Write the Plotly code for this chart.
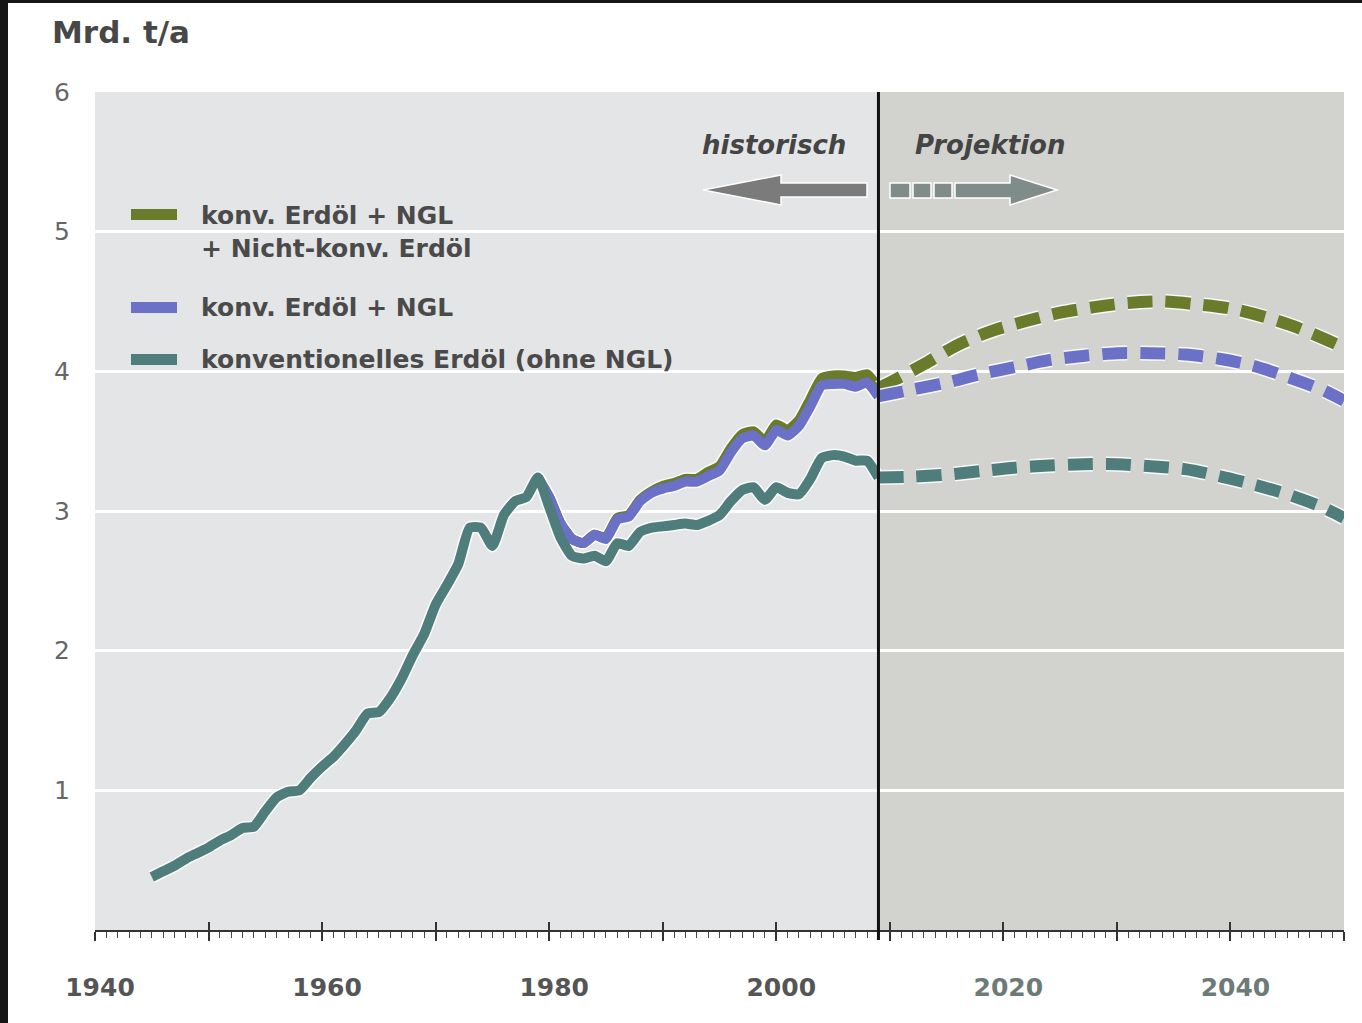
import plotly.graph_objects as go

# ---------------------------------------------------------------- data
hist_years = list(range(1945, 2010))
conv_oil_hist = [
    0.38, 0.42, 0.46, 0.51, 0.55, 0.59, 0.64, 0.68, 0.73, 0.74,
    0.85, 0.95, 0.99, 1.00, 1.09, 1.17, 1.24, 1.33, 1.43, 1.55,
    1.56, 1.66, 1.80, 1.97, 2.12, 2.33, 2.47, 2.62, 2.88, 2.88,
    2.75, 2.97, 3.07, 3.10, 3.24, 3.03, 2.81, 2.68, 2.66, 2.68,
    2.64, 2.77, 2.75, 2.85, 2.88, 2.89, 2.90, 2.91, 2.90, 2.93,
    2.97, 3.07, 3.15, 3.17, 3.08, 3.17, 3.13, 3.12, 3.23, 3.38,
    3.40, 3.39, 3.36, 3.36, 3.24,
]

ngl_years = list(range(1979, 2010))
conv_ngl_hist = [
    3.24, 3.10, 2.91, 2.80, 2.77, 2.83, 2.80, 2.94, 2.96, 3.07,
    3.13, 3.16, 3.18, 3.21, 3.21, 3.25, 3.29, 3.42, 3.52, 3.54,
    3.47, 3.58, 3.54, 3.61, 3.75, 3.90, 3.91, 3.91, 3.89, 3.92,
    3.82,
]
total_hist = [
    3.24, 3.10, 2.91, 2.80, 2.77, 2.83, 2.81, 2.95, 2.97, 3.08,
    3.14, 3.18, 3.20, 3.23, 3.23, 3.28, 3.32, 3.45, 3.55, 3.57,
    3.50, 3.62, 3.58, 3.65, 3.80, 3.95, 3.97, 3.97, 3.96, 3.98,
    3.88,
]

total_proj_years = [2009, 2010, 2013, 2016, 2019, 2022, 2025, 2028, 2031,
                    2034, 2037, 2040, 2043, 2046, 2050]
total_proj = [3.88, 3.92, 4.05, 4.19, 4.29, 4.36, 4.42, 4.46, 4.49,
              4.50, 4.48, 4.45, 4.39, 4.31, 4.17]

proj_years = [2009, 2012, 2015, 2018, 2021, 2024, 2027, 2030, 2033,
              2036, 2039, 2042, 2045, 2048, 2050]
conv_ngl_proj = [3.82, 3.87, 3.92, 3.98, 4.03, 4.08, 4.11, 4.13, 4.13,
                 4.12, 4.09, 4.04, 3.96, 3.87, 3.79]
conv_oil_proj = [3.24, 3.245, 3.26, 3.285, 3.31, 3.325, 3.335, 3.335, 3.32,
                 3.30, 3.25, 3.19, 3.12, 3.03, 2.95]

decades = list(range(1940, 2051, 10))
year_labels = {1940: "1940", 1960: "1960", 1980: "1980", 2000: "2000",
               2020: "2020", 2040: "2040"}
y_ticks = [1, 2, 3, 4, 5, 6]

legend_labels = [
    "konv. Erdöl + NGL<br>+ Nicht-konv. Erdöl",
    "konv. Erdöl + NGL",
    "konventionelles Erdöl (ohne NGL)",
]

# ---------------------------------------------------------------- styling
GREEN = "#6a7b2b"
BLUE = "#6a71c7"
TEAL = "#4f7d7b"
HALO = "rgba(255,255,255,0.85)"
BG_HIST = "#e4e5e6"
BG_PROJ = "#d2d3cf"
TEXT = "#4a4a4a"
SPLIT_YEAR = 2009

W_FIG, H_FIG = 1362, 1023
PL, PR, PT, PB = 95, 1344, 92, 930


def px(x):
    return (x - PL) / (PR - PL)


def py(y):
    return (PB - y) / (PB - PT)


def poly(points):
    return "M " + " L ".join(f"{px(a):.5f},{py(b):.5f}" for a, b in points) + " Z"


fig = go.Figure()

hist_w, proj_w = 10, 12
dash = "25px,13px"

# halos under the historical lines
for xs, ys in [(ngl_years, total_hist), (ngl_years, conv_ngl_hist),
               (hist_years, conv_oil_hist)]:
    fig.add_trace(go.Scatter(x=xs, y=ys, mode="lines", hoverinfo="skip",
                             line=dict(color=HALO, width=hist_w + 3,
                                       shape="spline", smoothing=0.5),
                             showlegend=False))

for xs, ys, c in [(ngl_years, total_hist, GREEN),
                  (ngl_years, conv_ngl_hist, BLUE),
                  (hist_years, conv_oil_hist, TEAL)]:
    fig.add_trace(go.Scatter(x=xs, y=ys, mode="lines",
                             line=dict(color=c, width=hist_w,
                                       shape="spline", smoothing=0.5),
                             showlegend=False))

# projections (dashed)
for xs, ys, c in [(total_proj_years, total_proj, GREEN),
                  (proj_years, conv_ngl_proj, BLUE),
                  (proj_years, conv_oil_proj, TEAL)]:
    fig.add_trace(go.Scatter(x=xs, y=ys, mode="lines", hoverinfo="skip",
                             line=dict(color=HALO, width=proj_w + 3, dash=dash,
                                       shape="spline", smoothing=0.8),
                             showlegend=False))
    fig.add_trace(go.Scatter(x=xs, y=ys, mode="lines",
                             line=dict(color=c, width=proj_w, dash=dash,
                                       shape="spline", smoothing=0.8),
                             showlegend=False))

# carrier trace for the overlaid axes
fig.add_trace(go.Scatter(x=[None], y=[None], xaxis="x2", yaxis="y2",
                         showlegend=False, hoverinfo="skip"))

shapes = []
# projection background
shapes.append(dict(type="rect", xref="x", yref="paper", x0=SPLIT_YEAR, x1=2050,
                   y0=0, y1=1, fillcolor=BG_PROJ, line_width=0, layer="below"))
# legend area background (hides the grid behind the legend)
shapes.append(dict(type="rect", xref="paper", yref="paper",
                   x0=px(115), x1=px(772), y0=py(385), y1=py(196),
                   fillcolor=BG_HIST, line_width=0, layer="between"))
# split line
shapes.append(dict(type="line", xref="x", yref="paper", x0=SPLIT_YEAR, x1=SPLIT_YEAR,
                   y0=py(940), y1=1, line=dict(color="#111111", width=3),
                   layer="above"))

# legend swatches
for (y0, y1), c in zip([(209, 220), (302, 313), (354, 365)], [GREEN, BLUE, TEAL]):
    shapes.append(dict(type="rect", xref="paper", yref="paper",
                       x0=px(131), x1=px(177), y0=py(y1), y1=py(y0),
                       fillcolor=c, line_width=0, layer="above"))

# direction arrows
shapes.append(dict(type="path", xref="paper", yref="paper",
                   path=poly([(703, 190), (781, 175), (781, 183), (867, 183),
                              (867, 197), (781, 197), (781, 205)]),
                   fillcolor="#7b7b7b", line=dict(color="white", width=1.5),
                   layer="above"))
for a, b in [(890, 910), (913, 931), (934, 952)]:
    shapes.append(dict(type="rect", xref="paper", yref="paper",
                       x0=px(a), x1=px(b), y0=py(198), y1=py(183),
                       fillcolor="#808c8a", line=dict(color="white", width=1.5),
                       layer="above"))
shapes.append(dict(type="path", xref="paper", yref="paper",
                   path=poly([(955, 183), (1010, 183), (1010, 175), (1057, 190),
                              (1010, 205), (1010, 198), (955, 198)]),
                   fillcolor="#808c8a", line=dict(color="white", width=1.5),
                   layer="above"))

# dark frame on the left and top edge
shapes.append(dict(type="rect", xref="paper", yref="paper",
                   x0=px(0), x1=px(8), y0=py(W_FIG), y1=py(0),
                   fillcolor="#161616", line_width=0, layer="above"))
shapes.append(dict(type="rect", xref="paper", yref="paper",
                   x0=px(0), x1=px(W_FIG), y0=py(3), y1=py(0),
                   fillcolor="#161616", line_width=0, layer="above"))

annotations = []
bold = dict(family="DejaVu Sans", size=25, color=TEXT, weight="bold")
annotations.append(dict(text="Mrd. t/a", xref="paper", yref="paper",
                        x=px(50), y=py(32), xanchor="left", yanchor="middle",
                        showarrow=False,
                        font=dict(family="DejaVu Sans", size=31, color="#474747",
                                  weight="bold")))
annotations.append(dict(text="historisch", xref="paper", yref="paper",
                        x=px(774), y=py(145), xanchor="center", yanchor="middle",
                        showarrow=False,
                        font=dict(family="DejaVu Sans", size=26, color="#444444",
                                  weight="bold", style="italic")))
annotations.append(dict(text="Projektion", xref="paper", yref="paper",
                        x=px(990), y=py(145), xanchor="center", yanchor="middle",
                        showarrow=False,
                        font=dict(family="DejaVu Sans", size=26, color="#444444",
                                  weight="bold", style="italic")))
for label, yc in zip(legend_labels, [232, 307, 359]):
    annotations.append(dict(text=label, xref="paper", yref="paper",
                            x=px(199), y=py(yc), xanchor="left", yanchor="middle",
                            align="left", showarrow=False, font=bold))

tick_text = []
for d in decades:
    if d in year_labels:
        col = "#6d7b78" if d > SPLIT_YEAR else "#555555"
        tick_text.append(f'<span style="color:{col}">{year_labels[d]}</span>')
    else:
        tick_text.append("")

fig.update_layout(
    width=W_FIG, height=H_FIG,
    margin=dict(l=PL, r=W_FIG - PR, t=PT, b=H_FIG - PB),
    paper_bgcolor="white", plot_bgcolor=BG_HIST,
    shapes=shapes, annotations=annotations, showlegend=False,
    xaxis=dict(range=[1940, 2050], tickmode="array", tickvals=decades,
               ticktext=tick_text, ticks="outside", ticklen=9, tickwidth=1.5,
               tickcolor="#333333", showgrid=False, zeroline=False,
               showline=True, linecolor="#333333", linewidth=2,
               tickfont=dict(family="DejaVu Sans", size=25, color="#555555",
                             weight="bold"),
               ticklabelstandoff=25, ticklabelshift=5,
               minor=dict(dtick=1, tick0=1940, ticks="outside", ticklen=6,
                          tickwidth=1, tickcolor="#444444", showgrid=False)),
    xaxis2=dict(range=[1940, 2050], overlaying="x", anchor="y", side="bottom",
                tickmode="array", tickvals=decades, ticks="inside", ticklen=8,
                tickwidth=1.5, tickcolor="#333333", showticklabels=False,
                showgrid=False, zeroline=False, showline=False),
    yaxis=dict(range=[0, 6], tickmode="array", tickvals=[1, 2, 3, 4, 5],
               showticklabels=False, ticks="", showgrid=True, gridcolor="white",
               gridwidth=3, zeroline=False, showline=False),
    yaxis2=dict(range=[0, 6], overlaying="y", anchor="x", side="left",
                tickmode="array", tickvals=y_ticks, ticks="", showgrid=False,
                zeroline=False, showline=False, ticklabelstandoff=24,
                tickfont=dict(family="DejaVu Sans", size=25, color="#666666")),
)

fig.write_html("out.html")
